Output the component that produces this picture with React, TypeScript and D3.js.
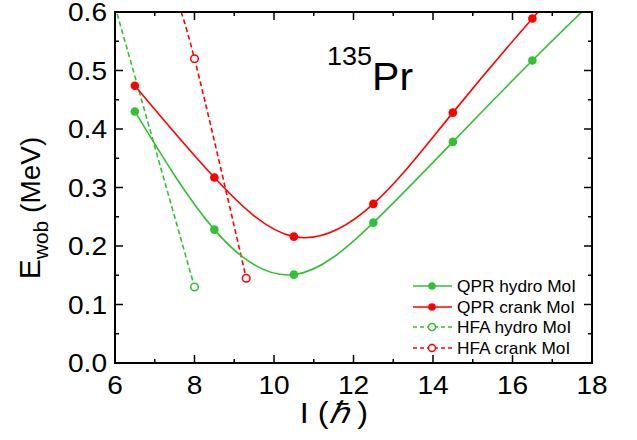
import React from "react";
import * as d3 from "d3";

// QPR hydro MoI (solid green, filled markers)
const qprHydroI = [6.5, 8.5, 10.5, 12.5, 14.5, 16.5];
const qprHydroE = [0.43, 0.228, 0.151, 0.24, 0.378, 0.517];
const qprHydroTailI = [18.0];
const qprHydroTailE = [0.617];

// QPR crank MoI (solid red, filled markers)
const qprCrankI = [6.5, 8.5, 10.5, 12.5, 14.5, 16.5];
const qprCrankE = [0.474, 0.317, 0.216, 0.272, 0.428, 0.589];
const qprCrankTailI = [17.0];
const qprCrankTailE = [0.625];

// HFA hydro MoI (dashed green, open marker)
const hfaHydroLineI = [6.0, 8.0];
const hfaHydroLineE = [0.61, 0.13];
const hfaHydroMarkI = [8.0];
const hfaHydroMarkE = [0.13];

// HFA crank MoI (dashed red, open markers)
const hfaCrankLineI = [7.5, 8.0, 9.3];
const hfaCrankLineE = [0.625, 0.52, 0.145];
const hfaCrankMarkI = [8.0, 9.3];
const hfaCrankMarkE = [0.52, 0.145];

const xTicks = [6, 8, 10, 12, 14, 16, 18];
const xMinor = [7, 9, 11, 13, 15, 17];
const yTicks = [0.0, 0.1, 0.2, 0.3, 0.4, 0.5, 0.6];
const yMinor = [0.05, 0.15, 0.25, 0.35, 0.45, 0.55];

const legendLabels = ["QPR hydro MoI", "QPR crank MoI", "HFA hydro MoI", "HFA crank MoI"];

const GREEN = "#33c033";
const RED = "#ff0000";
const FONT = "'Liberation Sans', Arial, Helvetica, sans-serif";
const SX = 1.08;

const W = 637;
const H = 440;
const L = 115, R = 592, T = 12, B = 363;

export default function App() {
  const x = d3.scaleLinear().domain([6, 18]).range([L, R]);
  const y = d3.scaleLinear().domain([0, 0.6]).range([B, T]);

  const zip = (a: number[], b: number[]) => a.map((v, i) => [v, b[i]] as [number, number]);

  const lineNat = d3
    .line<[number, number]>()
    .x((d) => x(d[0]))
    .y((d) => y(d[1]))
    .curve(d3.curveNatural);

  const qprHydroPts = zip(qprHydroI, qprHydroE);
  const qprCrankPts = zip(qprCrankI, qprCrankE);
  const qprHydroCurve = qprHydroPts.concat(zip(qprHydroTailI, qprHydroTailE));
  const qprCrankCurve = qprCrankPts.concat(zip(qprCrankTailI, qprCrankTailE));
  const hfaHydroCurve = zip(hfaHydroLineI, hfaHydroLineE);
  const hfaCrankCurve = zip(hfaCrankLineI, hfaCrankLineE);
  const hfaHydroMarks = zip(hfaHydroMarkI, hfaHydroMarkE);
  const hfaCrankMarks = zip(hfaCrankMarkI, hfaCrankMarkE);

  const legendStyles = [
    { color: GREEN, dash: undefined as string | undefined, filled: true },
    { color: RED, dash: undefined, filled: true },
    { color: GREEN, dash: "4,3", filled: false },
    { color: RED, dash: "4,3", filled: false },
  ];
  const legendY = [286, 307, 327, 348];

  return (
    <svg
      width={W}
      height={H}
      style={{ position: "absolute", left: 0, top: 0, background: "#fff" }}
      fontFamily={FONT}
    >
      <defs>
        <clipPath id="plotclip">
          <rect x={L} y={T} width={R - L} height={B - T} />
        </clipPath>
      </defs>
      <rect x={0} y={0} width={W} height={H} fill="#fff" />

      <g clipPath="url(#plotclip)">
        <path d={lineNat(hfaHydroCurve) || ""} fill="none" stroke={GREEN} strokeWidth={1.6} strokeDasharray="5,3" />
        <path d={lineNat(hfaCrankCurve) || ""} fill="none" stroke={RED} strokeWidth={1.6} strokeDasharray="5,3" />
        <path d={lineNat(qprHydroCurve) || ""} fill="none" stroke={GREEN} strokeWidth={1.6} />
        <path d={lineNat(qprCrankCurve) || ""} fill="none" stroke={RED} strokeWidth={1.6} />
      </g>

      {qprHydroPts.map((d, i) => (
        <circle key={"gh" + i} cx={x(d[0])} cy={y(d[1])} r={4.3} fill={GREEN} />
      ))}
      {qprCrankPts.map((d, i) => (
        <circle key={"rc" + i} cx={x(d[0])} cy={y(d[1])} r={4.3} fill={RED} />
      ))}
      {hfaHydroMarks.map((d, i) => (
        <circle key={"gho" + i} cx={x(d[0])} cy={y(d[1])} r={3.8} fill="#fff" stroke={GREEN} strokeWidth={1.5} />
      ))}
      {hfaCrankMarks.map((d, i) => (
        <circle key={"rco" + i} cx={x(d[0])} cy={y(d[1])} r={3.8} fill="#fff" stroke={RED} strokeWidth={1.5} />
      ))}

      {/* axes frame */}
      <rect x={L} y={T} width={R - L} height={B - T} fill="none" stroke="#000" strokeWidth={2} />

      {/* x ticks */}
      {xTicks.map((t) => (
        <g key={"xt" + t}>
          <line x1={x(t)} x2={x(t)} y1={B} y2={B - 8} stroke="#000" strokeWidth={1.5} />
          <line x1={x(t)} x2={x(t)} y1={T} y2={T + 8} stroke="#000" strokeWidth={1.5} />
          <text transform={`translate(${x(t)},394) scale(${SX},1)`} textAnchor="middle" fontSize={26} fill="#000">
            {t}
          </text>
        </g>
      ))}
      {xMinor.map((t) => (
        <g key={"xm" + t}>
          <line x1={x(t)} x2={x(t)} y1={B} y2={B - 4} stroke="#000" strokeWidth={1.5} />
          <line x1={x(t)} x2={x(t)} y1={T} y2={T + 4} stroke="#000" strokeWidth={1.5} />
        </g>
      ))}

      {/* y ticks */}
      {yTicks.map((t) => (
        <g key={"yt" + t}>
          <line x1={L} x2={L + 8} y1={y(t)} y2={y(t)} stroke="#000" strokeWidth={1.5} />
          <line x1={R} x2={R - 8} y1={y(t)} y2={y(t)} stroke="#000" strokeWidth={1.5} />
          <text transform={`translate(107,${y(t) + 9.3}) scale(${SX},1)`} textAnchor="end" fontSize={26} fill="#000">
            {t.toFixed(1)}
          </text>
        </g>
      ))}
      {yMinor.map((t) => (
        <g key={"ym" + t}>
          <line x1={L} x2={L + 4} y1={y(t)} y2={y(t)} stroke="#000" strokeWidth={1.5} />
          <line x1={R} x2={R - 4} y1={y(t)} y2={y(t)} stroke="#000" strokeWidth={1.5} />
        </g>
      ))}

      {/* axis titles */}
      <text transform="translate(40,208) rotate(-90)" textAnchor="middle" fill="#000">
        <tspan fontSize={30}>E</tspan>
        <tspan fontSize={21} dy={8}>wob</tspan>
        <tspan fontSize={28} dy={-8}> (MeV)</tspan>
      </text>
      <text transform={`translate(334,423) scale(${SX},1)`} textAnchor="middle" fill="#000" fontSize={30}>
        <tspan>I (</tspan>
        <tspan fontStyle="italic">ℏ</tspan>
        <tspan> )</tspan>
      </text>

      {/* annotation */}
      <text transform={`translate(327,90) scale(${SX},1)`} fill="#000">
        <tspan fontSize={25} dy={-25}>135</tspan>
        <tspan fontSize={38} dy={25}>Pr</tspan>
      </text>

      {/* legend */}
      {legendLabels.map((lab, i) => {
        const s = legendStyles[i];
        const ly = legendY[i];
        return (
          <g key={"lg" + i}>
            <line x1={413} x2={452} y1={ly} y2={ly} stroke={s.color} strokeWidth={1.6} strokeDasharray={s.dash} />
            {s.filled ? (
              <circle cx={432} cy={ly} r={3.8} fill={s.color} />
            ) : (
              <circle cx={432} cy={ly} r={3.5} fill="#fff" stroke={s.color} strokeWidth={1.5} />
            )}
            <text transform={`translate(457,${ly + 5.5}) scale(${SX},1)`} fontSize={16} fill="#000">
              {lab}
            </text>
          </g>
        );
      })}
    </svg>
  );
}
